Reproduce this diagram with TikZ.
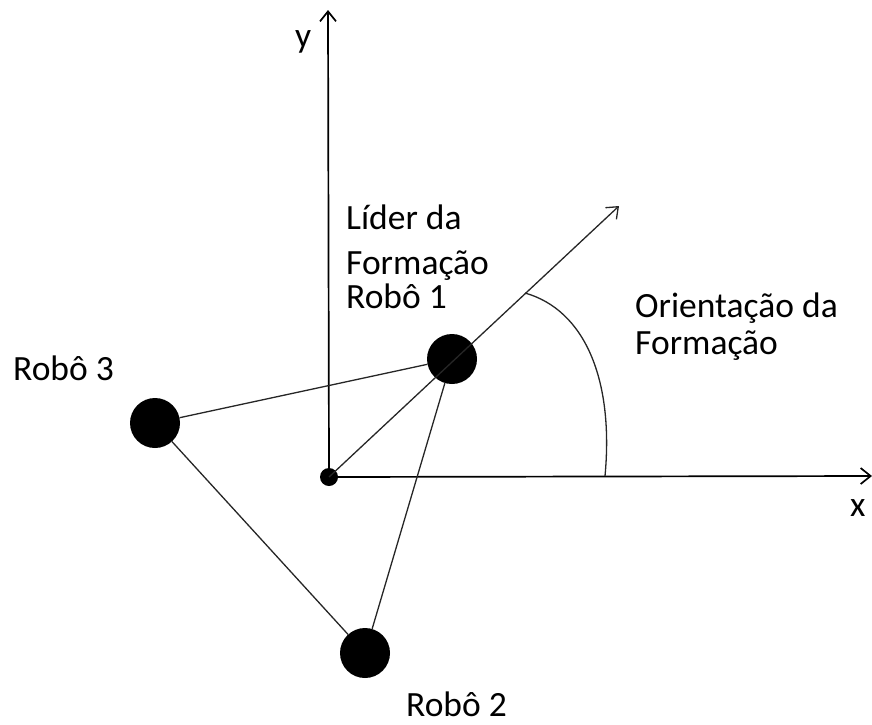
\documentclass[tikz,border=0pt]{standalone}
\usepackage{fontspec}
\setmainfont{Carlito}
\usetikzlibrary{arrows.meta}
\usetikzlibrary{positioning}

\begin{document}
\begin{tikzpicture}[x=1pt,y=-1pt]
        \useasboundingbox (0,0) rectangle (872,724);
        \begin{scope}[every node/.style={circle,fill=black,inner sep=0pt,minimum size=50pt}]
            \node[minimum size=18pt] (O) at (329,477) {};
            \node (r1) at (452,359) {};
            \node (r2) at (365,653) {};
            \node (r3) at (155,423) {};
        \end{scope}
        \coordinate (xend) at (872,476);
        \coordinate (yend) at (328,10);
        \coordinate (dirend) at (619,206);
        \coordinate (arcstart) at (605,476);
        \coordinate (arcend) at (525,293);
        \begin{scope}[>={Straight Barb[length=10pt,width=16pt]},
            every edge/.style={draw=black!85,line width=1.3pt}]
            \path [->] (O.center) edge[line width=1.7pt,draw=black] (xend);
            \path [->] (O.center) edge[line width=1.7pt,draw=black] (yend);
            \path [->] (O.center) edge (dirend);
            \path (r1) edge (r3);
            \path (r1) edge (r2);
            \path (r3) edge (r2);
            \draw[black!85,line width=1.3pt] (arcstart) .. controls (614,380) and (585,310) .. (arcend);
        \end{scope}
        \begin{scope}[every node/.style={anchor=base west,inner sep=0pt,font=\fontsize{35.5}{42}\selectfont}]
            \node (ylab) at (295,47) {y};
            \node (xlab) at (850,516) {x};
            \node (lider) at (346,229) {Líder da};
            \node (form1) at (346,274) {Formação};
            \node (robo1) at (346,308) {Robô 1};
            \node (orient) at (635,317) {Orientação da};
            \node (form2) at (635,354) {Formação};
            \node (robo3) at (13,380) {Robô 3};
            \node (robo2) at (406,716) {Robô 2};
        \end{scope}
    \end{tikzpicture}
\end{document}
